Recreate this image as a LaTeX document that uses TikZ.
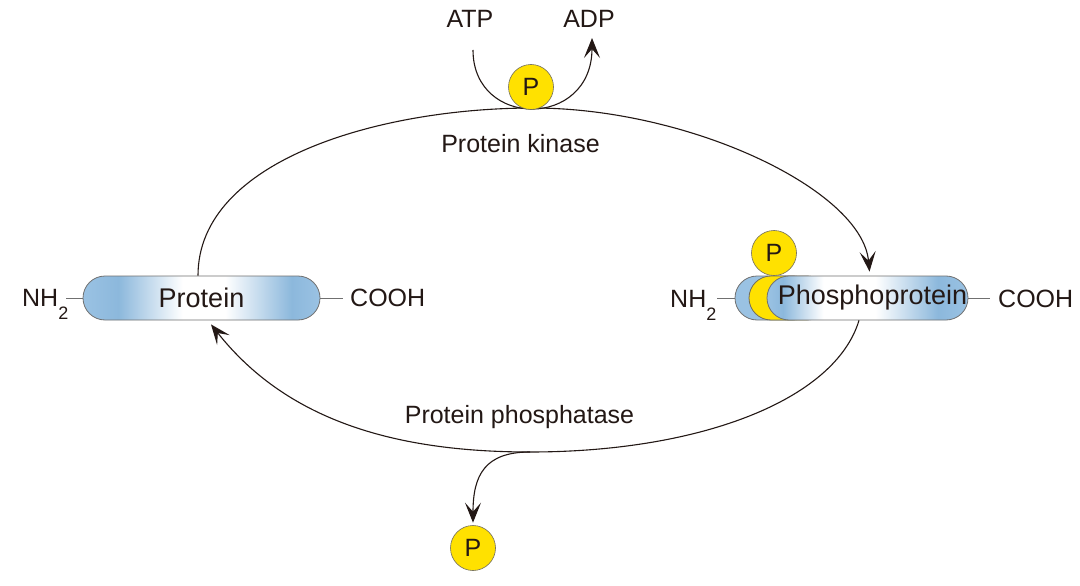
\documentclass[tikz,border=0pt]{standalone}
\usepackage{fontspec}
\setmainfont{Liberation Sans}
\usetikzlibrary{arrows.meta}
\definecolor{ink}{HTML}{231815}
\definecolor{pblue}{HTML}{9AC2E3}
\definecolor{pblued}{HTML}{8CB8DC}
\definecolor{pyel}{HTML}{FFE100}
\definecolor{pedge}{HTML}{6E6A5E}
\definecolor{cedge}{HTML}{707070}
\pgfdeclarehorizontalshading{protshade}{100bp}{color(0bp)=(pblue); color(25bp)=(pblue); color(32.5bp)=(pblued); color(46bp)=(white); color(55bp)=(white); color(69bp)=(pblued); color(75bp)=(pblue); color(100bp)=(pblue)}
\pgfdeclarehorizontalshading{phosshade}{100bp}{color(0bp)=(pblue); color(25bp)=(pblue); color(29bp)=(pblued); color(39bp)=(white); color(52bp)=(white); color(67.5bp)=(pblued); color(75bp)=(pblue); color(100bp)=(pblue)}
\tikzset{
  conn/.style={draw=ink, line width=1.1pt},
  tip/.style={-{Stealth[length=20pt,width=16pt,inset=9pt]}},
  tick/.style={draw=cedge, line width=0.9pt},
  capsule/.style={draw=cedge, line width=0.8pt, rounded corners=22pt, inner sep=0pt,
    minimum height=44pt, text=ink, font=\fontsize{27}{30}\selectfont},
  pcirc/.style={circle, fill=pyel, draw=pedge, line width=0.6pt, minimum size=45pt,
    inner sep=0pt, text=ink, font=\fontsize{25}{25}\selectfont},
  lbl/.style={inner sep=0pt, text=ink, font=\fontsize{25}{30}\selectfont},
}
\newcommand{\subtwo}{\raisebox{-13pt}{\fontsize{18}{18}\selectfont 2}}
\begin{document}
\begin{tikzpicture}[x=1pt,y=-1pt]
\fill[white] (0,0) rectangle (1080,586);
\useasboundingbox (0,0) rectangle (1080,586);

% labels
\node[lbl, anchor=base] (atp) at (470,28) {ATP};
\node[lbl, anchor=base] (adp) at (589,28) {ADP};
\node[lbl, anchor=base] (kin) at (520.5,152) {Protein kinase};
\node[lbl, anchor=base] (ptase) at (519.5,423) {Protein phosphatase};
\node[lbl, anchor=base west] (nhL) at (22,306) {NH\subtwo};
\node[lbl, anchor=base west] (coL) at (350,306) {COOH};
\node[lbl, anchor=base west] (nhR) at (670,307) {NH\subtwo};
\node[lbl, anchor=base west] (coR) at (998,307) {COOH};

% protein
\node[capsule, shade, shading=protshade, minimum width=237pt] (prot) at (201.5,298) {Protein};

% phosphoprotein layers
\node[capsule, fill=pblue, minimum width=80pt] (pback) at (775,298) {};
\node[capsule, draw=pedge, fill=pyel, minimum width=80pt] (pyl) at (789,298) {};
\node[capsule, shade, shading=phosshade, minimum width=201pt] (phos) at (867.5,298) {\hspace*{10pt}Phosphoprotein};

% terminal ticks
\coordinate (nhLe) at (66,298);
\coordinate (coLe) at (343,298);
\coordinate (nhRe) at (717,298);
\coordinate (coRe) at (990,298);
\draw[tick] (prot.west) -- (nhLe);
\draw[tick] (prot.east) -- (coLe);
\draw[tick] (pback.west) -- (nhRe);
\draw[tick] (phos.east) -- (coRe);

% kinase cycle
\coordinate (ktop) at (533,108);
\draw[conn, tip] ([xshift=-3.5pt]prot.north) .. controls (198,160) and (380,108) .. (ktop)
  .. controls (690,108) and (862,190) .. ([xshift=2pt,yshift=4pt]phos.north);

% phosphatase cycle
\coordinate (pbot) at (530,452);
\draw[conn, tip] ([xshift=-8.5pt]phos.south) .. controls (835,400) and (700,452) .. (pbot)
  .. controls (390,452) and (285,418) .. ([xshift=9.5pt,yshift=-4pt]prot.south);

% ATP -> ADP
\coordinate (atpS) at (473,50);
\coordinate (adpE) at (592,38);
\draw[conn, tip] (atpS) .. controls (473,129) and (592,129) .. (adpE);

% P circles
\node[pcirc] (pk) at (531,87) {P};
\node[pcirc] (pp) at (774,253) {P};
\node[pcirc] (pr) at (473,548) {P};

% release
\draw[conn, tip] (pbot) .. controls (485,452) and (473,475) .. ([yshift=2.5pt]pr.north);
\end{tikzpicture}
\end{document}
